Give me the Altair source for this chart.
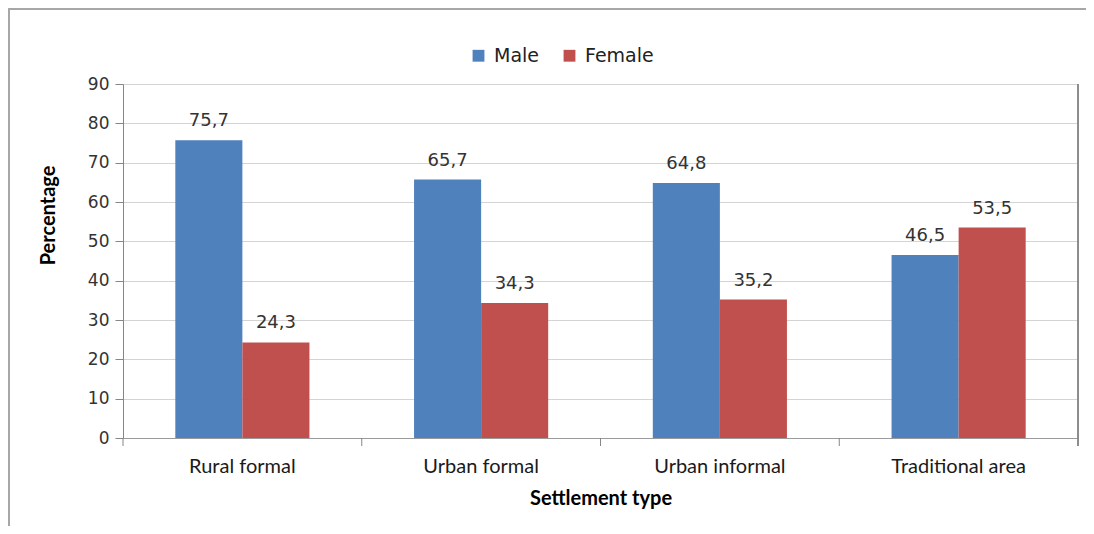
import altair as alt
import pandas as pd

categories = ["Rural formal", "Urban formal", "Urban informal", "Traditional area"]
series = ["Male", "Female"]
male = [75.7, 65.7, 64.8, 46.5]
female = [24.3, 34.3, 35.2, 53.5]
colors = ["#4F81BD", "#C0504D"]
y_ticks = [0, 10, 20, 30, 40, 50, 60, 70, 80, 90]

rows = []
for c, m, f in zip(categories, male, female):
    rows.append({"Settlement": c, "Sex": "Male", "Value": m})
    rows.append({"Settlement": c, "Sex": "Female", "Value": f})
df = pd.DataFrame(rows)
df["Label"] = df["Value"].map(lambda v: f"{v:.1f}".replace(".", ","))
cat_df = pd.DataFrame({"Settlement": categories})

W, H = 955, 354
HUM = "Lato, Open Sans, Liberation Sans"

x_axis = alt.Axis(
    labelFont=HUM, labelFontSize=20, labelColor="#1a1a1a", labelPadding=18,
    labelAngle=0, ticks=False, domain=True, domainColor="#9a9a9a", grid=False,
    titleFont=HUM, titleFontSize=20, titleFontWeight="bold", titleColor="#000000",
    titlePadding=12,
)
x_scale = alt.Scale(domain=categories, paddingInner=0, paddingOuter=0)
x_enc = alt.X("Settlement:N", sort=categories, scale=x_scale, title="Settlement type", axis=x_axis)
xo = alt.XOffset("Sex:N", sort=series, scale=alt.Scale(domain=series, paddingInner=0, paddingOuter=0.78))
y_enc = alt.Y(
    "Value:Q",
    scale=alt.Scale(domain=[0, 90], nice=False),
    title="Percentage",
    axis=alt.Axis(
        values=y_ticks, grid=True, gridColor="#d4d4d4", domainColor="#868686",
        tickColor="#868686", tickSize=8, labelFont="DejaVu Sans", labelFontSize=17,
        labelColor="#333333", labelPadding=6,
        titleFont=HUM, titleFontSize=20, titleFontWeight="bold", titleColor="#000000",
        titlePadding=29, titleY=131,
    ),
)

bars = alt.Chart(df).mark_bar(stroke=None).encode(
    x=x_enc,
    xOffset=xo,
    y=y_enc,
    color=alt.Color(
        "Sex:N", sort=series,
        scale=alt.Scale(domain=series, range=colors),
        legend=alt.Legend(
            title=None, orient="none", direction="horizontal", legendX=346, legendY=-38,
            symbolType="square", symbolSize=140, symbolStrokeWidth=0, symbolOpacity=1,
            labelFont="DejaVu Sans", labelFontSize=19, labelColor="#222222",
            columnPadding=20, labelOffset=6,
        ),
    ),
)

labels = alt.Chart(df).mark_text(
    font="DejaVu Sans", fontSize=18, color="#333333", baseline="alphabetic", dy=-14
).encode(x=x_enc, xOffset=xo, y=y_enc, text="Label:N")

bticks = alt.Chart(cat_df).mark_rule(color="#868686", strokeWidth=1).encode(
    x=alt.X("Settlement:N", sort=categories, scale=x_scale, title="Settlement type",
            axis=x_axis, bandPosition=0),
    y=alt.value(H), y2=alt.value(H + 8),
)

right_border = alt.Chart(cat_df).mark_rule(color="#868686", strokeWidth=1).encode(
    x=alt.value(W), y=alt.value(0), y2=alt.value(H + 8)
)

outer = alt.Chart(cat_df).mark_rect(
    fillOpacity=0, stroke="#a6a6a6", strokeWidth=1.5
).encode(x=alt.value(-114), x2=alt.value(1100), y=alt.value(-75), y2=alt.value(560))

chart = alt.layer(outer, bars, labels, bticks, right_border).properties(
    width=W, height=H,
    padding={"left": 115, "top": 76, "right": 8, "bottom": 88},
    autosize=alt.AutoSizeParams(type="none"),
).configure_view(stroke=None).configure(background="white")

chart.save("out.html", embed_options={"renderer": "svg", "actions": False})
